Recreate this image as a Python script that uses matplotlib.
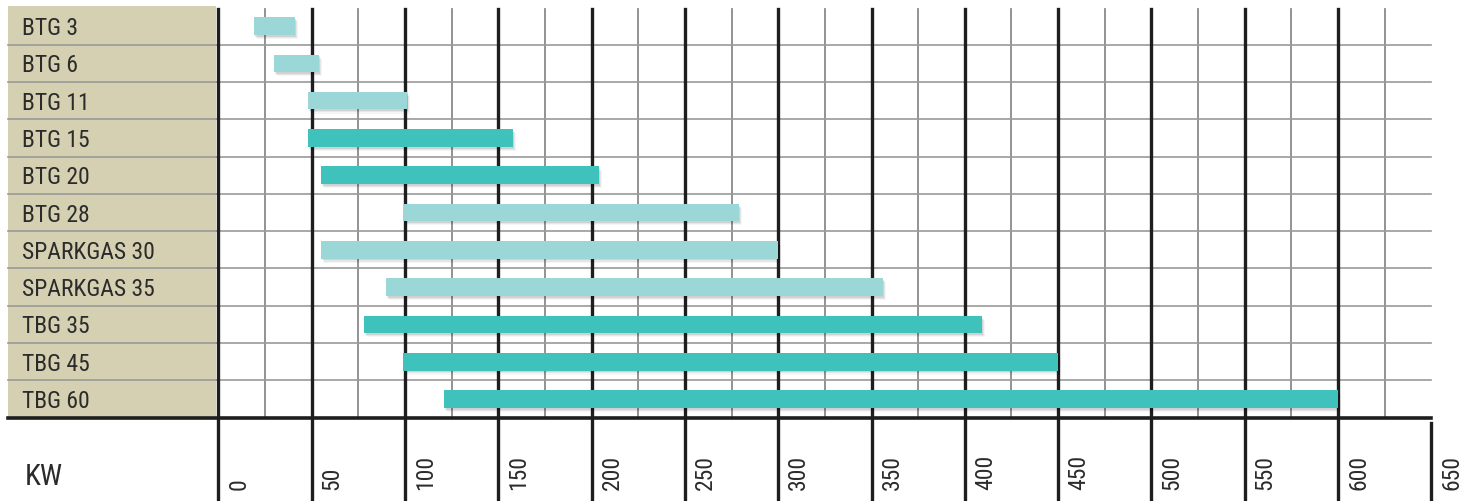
import matplotlib
matplotlib.use("Agg")
import matplotlib.pyplot as plt
from matplotlib import font_manager

# -- data -------------------------------------------------------------------
MODELS = ["BTG 3", "BTG 6", "BTG 11", "BTG 15", "BTG 20", "BTG 28",
          "SPARKGAS 30", "SPARKGAS 35", "TBG 35", "TBG 45", "TBG 60"]
KW_MIN = [19, 30, 48, 48, 55, 99, 55, 90, 78, 99, 121]
KW_MAX = [41, 54, 101, 158, 204, 279, 300, 356, 409, 450, 600]
DARK = [False, False, False, True, True, False, False, False, True, True, True]
TICKS = list(range(0, 651, 50))

LIGHT_C = "#9bd7d6"
DARK_C = "#3fc1bc"
BEIGE = "#d5d0b1"

# pick a narrow font if one is installed
names = {f.name for f in font_manager.fontManager.ttflist}
narrow = [f.name for f in font_manager.fontManager.ttflist
          if "condensed" in str(f.stretch) or "Narrow" in f.name
          or "Condensed" in f.name]
FONT = None
for cand in ["Liberation Sans Narrow", "DejaVu Sans Condensed",
             "Roboto Condensed", "Open Sans Condensed"] + sorted(narrow):
    if cand in names:
        FONT = cand
        break
if FONT is None:
    FONT = "DejaVu Sans"
FAMILY = [FONT, "DejaVu Sans"]
STRETCH = "condensed"

# figure is 1472x502 px; x in kW units, y in row units (row 0 at top)
PX = 1.866          # px per kW
X0 = 218.4          # pixel of 0 kW
RH = 37.3           # row height px
Y0 = 8.4            # pixel of top of row 0

fig = plt.figure(figsize=(14.72, 5.02), dpi=100)
ax = fig.add_axes([0, 0, 1, 1])
ax.set_xlim(-X0 / PX, (1472 - X0) / PX)
ax.set_ylim((502 - Y0) / RH, -Y0 / RH)
ax.axis("off")

n = len(MODELS)
left = (8 - X0) / PX

# beige label panel
ax.fill_between([left, -1.5], -0.05, n, color=BEIGE, lw=0, zorder=0)

# grid
for v in range(25, 651, 50):
    ax.plot([v, v], [0.05, n], color="#8a8a8a", lw=1.3, zorder=1)
for i in range(1, n):
    ax.plot([left, 650], [i, i], color="#9a9a9a", lw=1.2, zorder=1)
for v in TICKS[:-1]:
    ax.plot([v, v], [0.05, 14], color="#1e1e1e", lw=2.4, zorder=2)
ax.plot([650, 650], [n + 0.15, 14], color="#1e1e1e", lw=2.4, zorder=2)
ax.plot([left, 650], [n, n], color="#1e1e1e", lw=2.6, zorder=2)

# bars with a soft shadow
widths = [b - a for a, b in zip(KW_MIN, KW_MAX)]
colors = [DARK_C if d else LIGHT_C for d in DARK]
ys = [i + 0.5 for i in range(n)]
for k, a in enumerate([0.09, 0.06, 0.04]):
    ax.barh([y + 0.05 + 0.03 * k for y in ys], widths,
            left=[m + 0.6 + 0.5 * k for m in KW_MIN], height=0.47,
            color="black", alpha=a, lw=0, zorder=3)
ax.barh(ys, widths, left=KW_MIN, height=0.47, color=colors, lw=0, zorder=4)

# labels
for y, name in zip(ys, MODELS):
    ax.text((22 - X0) / PX, y + 0.04, name, ha="left", va="center",
            fontsize=17, color="#2b2b2b", family=FAMILY, stretch=STRETCH)
ax.text((25 - X0) / PX, (477 - Y0) / RH, "KW", ha="left", va="center",
        fontsize=21, color="#2b2b2b", family=FAMILY, stretch=STRETCH)
for t in TICKS:
    ax.text(t + 11, (490 - Y0) / RH, str(t), rotation=90, ha="center",
            va="bottom", fontsize=17, color="#2b2b2b", family=FAMILY,
            stretch=STRETCH)

fig.savefig("out.png", dpi=100)
